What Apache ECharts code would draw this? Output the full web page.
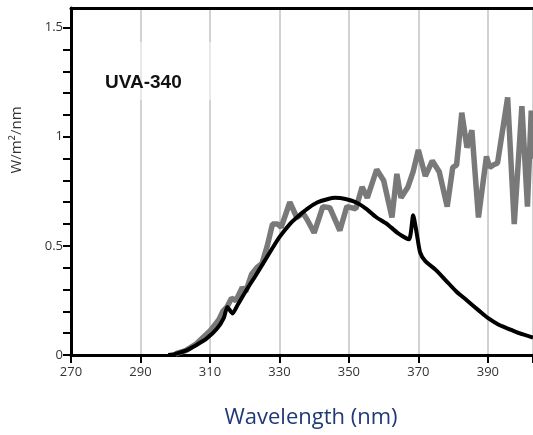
<!DOCTYPE html>
<html>
<head>
<meta charset="utf-8">
<script src="https://cdn.jsdelivr.net/npm/echarts@6/dist/echarts.min.js"></script>
<style>
  html, body { margin: 0; padding: 0; background: #fff; }
  #chart { width: 533px; height: 435px; }
</style>
</head>
<body>
<div id="chart"></div>
<script>
// tick labels
var xTicks = [270, 290, 310, 330, 350, 370, 390];
var yLabels = [0, 0.5, 1, 1.5];
var yTicks = [0, 0.1, 0.2, 0.3, 0.4, 0.5, 0.6, 0.7, 0.8, 0.9, 1, 1.1, 1.2, 1.3, 1.4, 1.5];

// gray curve (sunlight)
var grayWl = [300, 303, 306, 308, 310, 311, 312.5, 313.7, 314.9, 316.2, 317.5, 319.3, 320.3, 322, 323.5, 325,
  326.5, 328, 329.5, 330.5, 333, 335, 336.8, 338, 340, 342.5, 344.5, 347.4, 349.4, 352, 353.8, 355.3, 358, 360,
  362.4, 363.8, 365, 367, 368.5, 370, 372, 374, 376, 378.3, 379.9, 381, 382.5, 384, 385.4, 387.3, 389.6, 390.5,
  391.5, 392.8, 395.7, 397.6, 399.8, 401.4, 402.5, 403.5];
var grayVal = [0.005, 0.02, 0.05, 0.08, 0.11, 0.13, 0.16, 0.2, 0.22, 0.26, 0.25, 0.31, 0.29, 0.37, 0.4, 0.42,
  0.5, 0.6, 0.6, 0.585, 0.7, 0.63, 0.65, 0.62, 0.56, 0.68, 0.675, 0.57, 0.68, 0.67, 0.77, 0.72, 0.85, 0.8,
  0.63, 0.83, 0.72, 0.77, 0.84, 0.94, 0.82, 0.89, 0.84, 0.68, 0.86, 0.87, 1.11, 0.95, 1.03, 0.63, 0.91, 0.86,
  0.87, 0.88, 1.18, 0.6, 1.14, 0.68, 1.12, 0.9];

// black curve (UVA-340 lamp)
var blackWl = [298, 300, 303, 306, 309, 312, 314, 315, 316.5, 318, 320.6, 323, 325.3, 328, 330, 333, 335, 338,
  341, 344, 346, 349, 352, 355, 358, 361, 364, 367.3, 368.5, 369.5, 370.5, 372, 375, 378, 381, 384, 387.7, 390,
  393, 396, 399, 403];
var blackVal = [0, 0.005, 0.02, 0.045, 0.075, 0.12, 0.17, 0.22, 0.19, 0.23, 0.3, 0.36, 0.42, 0.49, 0.54, 0.6,
  0.63, 0.67, 0.7, 0.715, 0.72, 0.715, 0.7, 0.67, 0.63, 0.6, 0.56, 0.53, 0.64, 0.56, 0.47, 0.43, 0.39, 0.34,
  0.29, 0.25, 0.2, 0.17, 0.14, 0.12, 0.1, 0.08];

function pairs(xs, ys) {
  return xs.map(function (x, i) { return [x, ys[i]]; });
}

var chart = echarts.init(document.getElementById('chart'));
var labelFont = { color: '#333', fontSize: 13, fontFamily: 'Open Sans' };

chart.setOption({
  animation: false,
  grid: { left: 71, top: 8, right: 0, bottom: 80 },
  xAxis: [{
    type: 'value', min: 270, max: 403, interval: 20,
    axisLine: { lineStyle: { color: '#000', width: 3 } },
    axisTick: { show: true, length: 8, lineStyle: { color: '#000', width: 2 } },
    axisLabel: Object.assign({ margin: 11, customValues: xTicks }, labelFont),
    splitLine: { show: true, lineStyle: { color: '#d2d2d2', width: 2 } }
  }, {
    type: 'value', position: 'top', min: 270, max: 403,
    axisLine: { show: true, lineStyle: { color: '#000', width: 3 } },
    axisTick: { show: false }, axisLabel: { show: false }, splitLine: { show: false }
  }],
  yAxis: {
    type: 'value', min: 0, max: 1.59, interval: 0.5,
    axisLine: { show: true, lineStyle: { color: '#000', width: 3 } },
    axisTick: { show: true, length: 8, customValues: yTicks, lineStyle: { color: '#000', width: 2 } },
    axisLabel: Object.assign({ margin: 8, customValues: yLabels }, labelFont),
    splitLine: { show: false }
  },
  graphic: [
    {
      type: 'rect', shape: { x: 138, y: 42, width: 128, height: 58 },
      style: { fill: 'rgba(255,255,255,0.5)' }, z: 1
    },
    {
      type: 'text', left: 105, top: 73, z: 2,
      style: { text: 'UVA-340', fill: '#111', font: 'bold 19px "Liberation Sans"' }
    },
    {
      type: 'text', x: 311, y: 418,
      style: { text: 'Wavelength (nm)', fill: '#1f3a78', font: '22px "Open Sans"', align: 'center', verticalAlign: 'middle' }
    },
    {
      type: 'text', x: 17, y: 140, rotation: Math.PI / 2,
      style: { text: 'W/m²/nm', fill: '#333', font: '15px "Open Sans"', align: 'center', verticalAlign: 'middle' }
    }
  ],
  series: [{
    type: 'line', data: pairs(grayWl, grayVal), showSymbol: false,
    lineStyle: { color: '#797979', width: 5.5 }, z: 2
  }, {
    type: 'line', data: pairs(blackWl, blackVal), showSymbol: false, smooth: 0.2,
    lineStyle: { color: '#000', width: 4 }, z: 3
  }]
});
</script>
</body>
</html>
